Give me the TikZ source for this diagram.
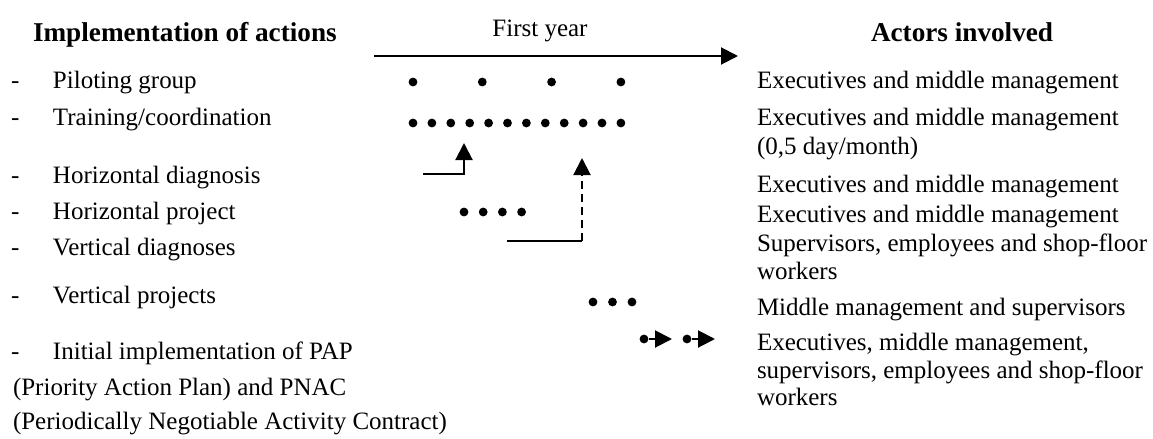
\documentclass[tikz,border=0pt]{standalone}
\usepackage{fontspec}
\setmainfont{Liberation Serif}
\usetikzlibrary{arrows.meta,positioning}

\newcommand{\dashitem}[1]{\makebox[21pt][l]{-}#1}

\begin{document}
\begin{tikzpicture}[x=0.5pt, y=-0.5pt, line width=1pt, >={Triangle[length=8.5pt, width=8.5pt]},
  txt/.style={anchor=base west, inner sep=0pt, font=\fontsize{12.5}{15}\selectfont},
  hdr/.style={txt, font=\fontsize{13.6}{16}\selectfont\bfseries},
  dot/.style={circle, fill, inner sep=0pt, minimum size=4.4pt}]
\useasboundingbox (0,0) rectangle (1153,439);
% headings and time axis
\node[hdr] (impl) at (32,41) {Implementation of actions};
\node[hdr] (actors) at (870,41) {Actors involved};
\coordinate (yr-start) at (374,56); \coordinate (yr-end) at (738,56);
\draw[->] (yr-start) -- (yr-end);
\node[txt, anchor=base] (year) at (540,37) {First year};
% actions
\node[txt] (pilot) at (10,89) {\dashitem{Piloting group}};
\node[txt] (train) at (10,126) {\dashitem{Training/coordination}};
\node[txt] (hdiag) at (10,183) {\dashitem{Horizontal diagnosis}};
\node[txt] (hproj) at (10,219) {\dashitem{Horizontal project}};
\node[txt] (vdiag) at (10,255) {\dashitem{Vertical diagnoses}};
\node[txt] (vproj) at (10,303) {\dashitem{Vertical projects}};
\node[txt] (pap) at (10,359) {\dashitem{Initial implementation of PAP}};
\node[txt] (pap2) at (12,395) {(Priority Action Plan) and PNAC};
\node[txt, below=17pt of pap2.base west, anchor=base west] (pap3) {(Periodically Negotiable Activity Contract)};
% actors
\node[txt] (act1) at (756,88) {Executives and middle management};
\node[txt] (act2) at (756,126) {Executives and middle management};
\node[txt, below=14pt of act2.base west, anchor=base west] (act2b) {(0,5 day/month)};
\node[txt] (act3) at (756,192) {Executives and middle management};
\node[txt] (act4) at (756,222) {Executives and middle management};
\node[txt] (act5) at (756,251) {Supervisors, employees and shop-floor};
\node[txt, below=14pt of act5.base west, anchor=base west] (act5b) {workers};
\node[txt] (act6) at (756,315) {Middle management and supervisors};
\node[txt] (act7) at (756,350) {Executives, middle management,};
\node[txt, below=14pt of act7.base west, anchor=base west] (act7b) {supervisors, employees and shop-floor};
\node[txt, below=13.5pt of act7b.base west, anchor=base west] (act7c) {workers};
% time dots
\foreach \i in {0,...,3} \node[dot] (pl-\i) at (413+69.3*\i,82) {};
\foreach \i in {0,...,11} \node[dot] (tr-\i) at (413+18.9*\i,123) {};
\foreach \i in {0,...,3} \node[dot] (hp-\i) at (464+19.2*\i,212) {};
\foreach \i in {0,...,2} \node[dot] (vp-\i) at (593+19.5*\i,302) {};
\node[dot] (pa-1) at (644,339) {}; \coordinate (pa-1-tip) at (672,339);
\node[dot] (pa-2) at (687,339) {}; \coordinate (pa-2-tip) at (715,339);
\draw[->] (pa-1) -- (pa-1-tip);
\draw[->] (pa-2) -- (pa-2-tip);
% feedback arrows
\coordinate (hd-start) at (423,174); \coordinate (hd-tip) at (464,143);
\draw[->] (hd-start) -| (hd-tip);
\coordinate (vd-start) at (507,241); \coordinate (vd-bend) at (582,241); \coordinate (vd-tip) at (582,158);
\draw (vd-start) -- (vd-bend);
\draw[->, dash pattern=on 4pt off 2.5pt] (vd-bend) -- (vd-tip);
\end{tikzpicture}
\end{document}
